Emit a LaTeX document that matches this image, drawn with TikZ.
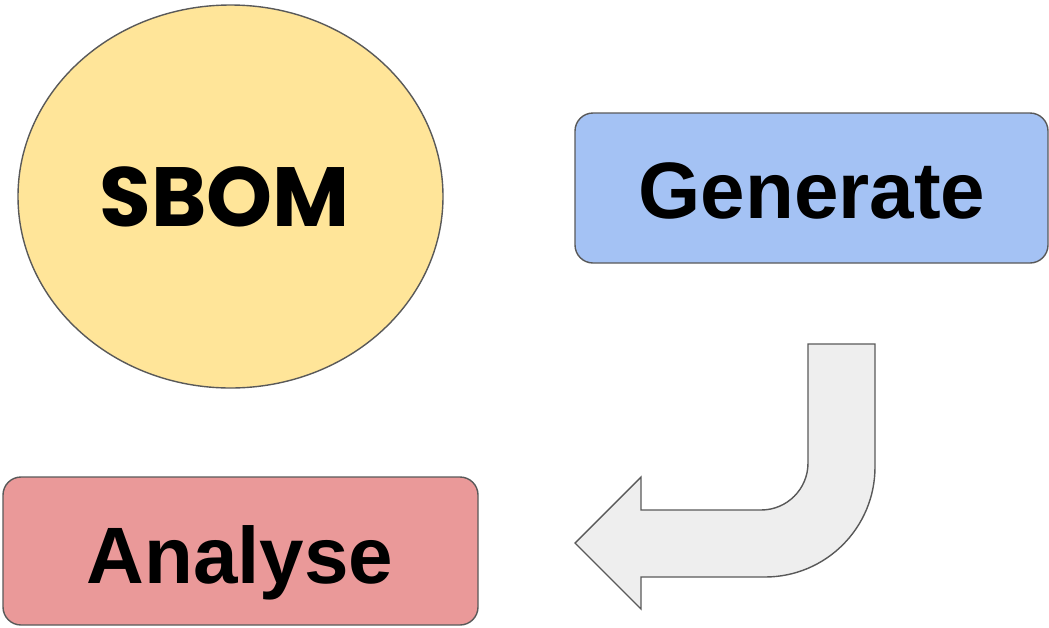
\documentclass[tikz,border=0pt]{standalone}
\usepackage{fontspec}
\setmainfont{Liberation Sans}
\newfontfamily\popfont{Poppins}
\definecolor{yel}{HTML}{FFE599}
\definecolor{blu}{HTML}{A4C2F4}
\definecolor{rd}{HTML}{EA9999}
\definecolor{gry}{HTML}{EEEEEE}
\definecolor{edge}{HTML}{595959}
\tikzset{
  shapeline/.style={draw=edge, line width=1.4pt},
  boxlabel/.style={font=\fontsize{80}{80}\selectfont\bfseries, text=black, inner sep=0pt, anchor=base},
}
\begin{document}
\begin{tikzpicture}[x=1pt,y=-1pt]
\useasboundingbox (0,0) rectangle (1049,627);
% SBOM ellipse
\path[shapeline, fill=yel] (230.5,196.5) ellipse [x radius=212.5pt, y radius=191.5pt];
\node[boxlabel, font=\popfont\fontsize{84}{84}\selectfont\bfseries] (sbom) at (225,226) {SBOM};
% Generate box
\path[shapeline, fill=blu, rounded corners=18pt] (575,113) rectangle (1048,263);
\node[boxlabel] (gen) at (812,218) {Generate};
% Analyse box
\path[shapeline, fill=rd, rounded corners=18pt] (3,477) rectangle (478,625);
\node[boxlabel] (ana) at (240,583) {Analyse};
% bent arrow
\path[shapeline, fill=gry, line join=miter]
  (808,344) -- (875,344) -- (875,467)
  .. controls (875,527.8) and (825.8,577) .. (765,577)
  -- (641,577) -- (641,609) -- (575,543) -- (641,477) -- (641,510)
  -- (761,510)
  .. controls (787,510) and (808,489) .. (808,463)
  -- cycle;
\end{tikzpicture}
\end{document}
